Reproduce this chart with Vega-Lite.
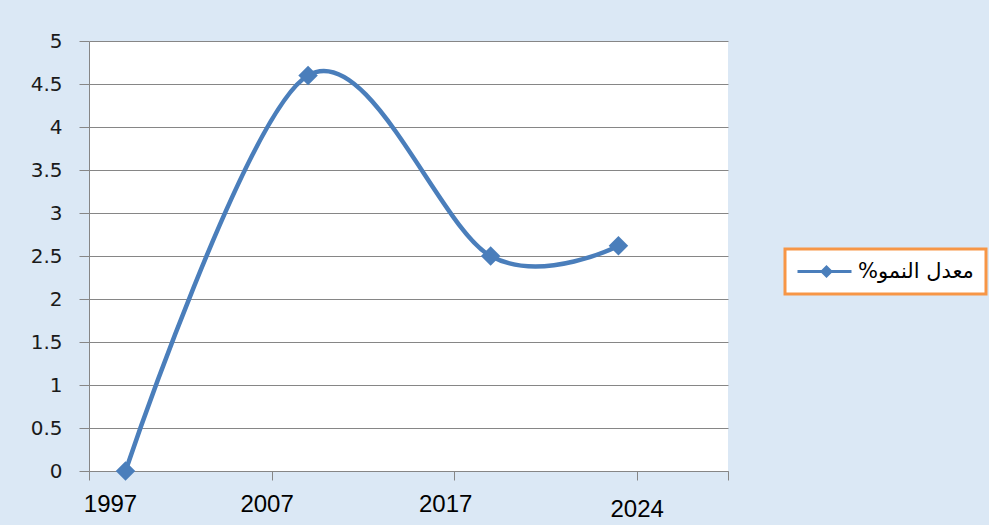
{
  "$schema": "https://vega.github.io/schema/vega-lite/v6.json",
  "width": 639,
  "height": 430,
  "autosize": {"type": "none"},
  "padding": {"left": 89, "top": 41, "right": 261, "bottom": 54},
  "background": "#dbe8f5",
  "config": {
    "view": {"fill": "white", "stroke": null},
    "legend": {"strokeWidth": 3, "strokeColor": "#f79646", "fillColor": "white"}
  },
  "data": {
    "values": [
      {"year": 1997, "growth": 0},
      {"year": 2007, "growth": 4.6},
      {"year": 2017, "growth": 2.5},
      {"year": 2024, "growth": 2.62}
    ]
  },
  "encoding": {
    "x": {
      "field": "year",
      "type": "quantitative",
      "scale": {"domain": [1995, 2030], "nice": false, "zero": false},
      "axis": {
        "title": null,
        "values": [1995, 2005, 2015, 2025, 2030],
        "grid": false,
        "domainColor": "#868686",
        "domainWidth": 1,
        "tickColor": "#868686",
        "tickSize": 9,
        "labelExpr": "datum.value == 1995 ? '1997' : datum.value == 2005 ? '2007' : datum.value == 2015 ? '2017' : datum.value == 2025 ? '2024' : ''",
        "labelFont": "Liberation Sans",
        "labelFontSize": 24,
        "labelColor": "#000000",
        "labelBaseline": "top",
        "labelPadding": {"condition": {"test": "datum.value == 2025", "value": 17}, "value": 12},
        "labelOffset": {"condition": [
          {"test": "datum.value == 1995", "value": 21},
          {"test": "datum.value == 2005", "value": -5},
          {"test": "datum.value == 2015", "value": -9}
        ], "value": 0},
        "labelFlush": false,
        "labelOverlap": false
      }
    },
    "y": {
      "field": "growth",
      "type": "quantitative",
      "scale": {"domain": [0, 5], "nice": false},
      "axis": {
        "title": null,
        "values": [0, 0.5, 1, 1.5, 2, 2.5, 3, 3.5, 4, 4.5, 5],
        "format": "~g",
        "grid": true,
        "gridColor": "#868686",
        "gridWidth": 1,
        "domainColor": "#868686",
        "tickColor": "#868686",
        "tickSize": 10,
        "labelFont": "DejaVu Sans",
        "labelFontSize": 20,
        "labelPadding": 17,
        "labelColor": "#1a1a1a",
        "labelFlush": false,
        "labelOverlap": false
      }
    }
  },
  "layer": [
    {
      "mark": {"type": "line", "interpolate": "cardinal", "tension": 0, "color": "#4a7ebb", "strokeWidth": 4.5}
    },
    {
      "mark": {"type": "point", "shape": "diamond", "filled": true, "size": 380, "opacity": 1},
      "encoding": {
        "color": {
          "datum": "معدل النمو%\u200f",
          "scale": {"range": ["#4a7ebb"]},
          "legend": {
            "title": null,
            "orient": "none",
            "legendX": 696,
            "legendY": 208,
            "fillColor": "white",
            "strokeColor": "#f79646",
            "padding": 12,
            "cornerRadius": 0,
            "symbolType": "M-1,-0.15L4.4,-0.15L4.4,0.15L-1,0.15Z M1.9,-0.65L2.55,0L1.9,0.65L1.25,0Z",
            "symbolSize": 400,
            "symbolStrokeWidth": 0,
            "symbolOpacity": 1,
            "labelFont": "DejaVu Sans",
            "labelFontSize": 21,
            "labelColor": "#000000",
            "labelOffset": 40,
            "labelLimit": 400
          }
        }
      }
    }
  ]
}
